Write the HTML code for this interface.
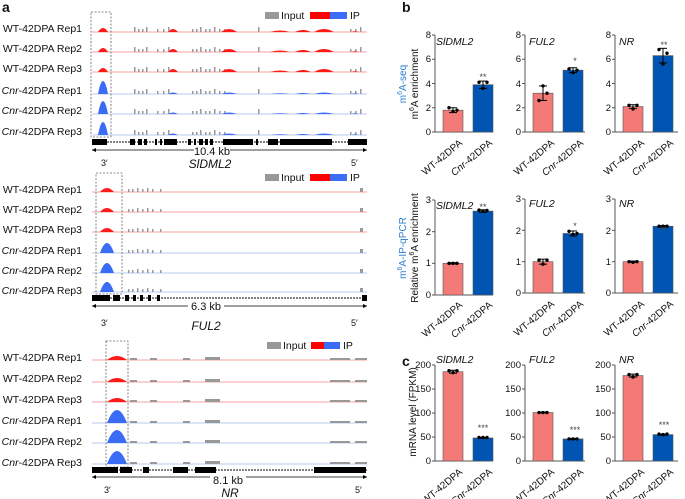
<!DOCTYPE html>
<html><head><meta charset="utf-8"><style>
body{margin:0;background:#fff}
svg{display:block;font-family:"Liberation Sans",sans-serif}
</style></head><body>
<svg id="s" width="685" height="499" viewBox="0 0 685 499" xmlns="http://www.w3.org/2000/svg">
<g id="g"></g>
<g font-size="10.5" fill="#111" text-anchor="end">
<text x="82" y="32">WT-42DPA Rep1</text><text x="82" y="52">WT-42DPA Rep2</text><text x="82" y="72">WT-42DPA Rep3</text>
<text x="82" y="94"><tspan font-style="italic">Cnr</tspan>-42DPA Rep1</text><text x="82" y="114"><tspan font-style="italic">Cnr</tspan>-42DPA Rep2</text><text x="82" y="135"><tspan font-style="italic">Cnr</tspan>-42DPA Rep3</text>
<text x="82" y="193">WT-42DPA Rep1</text><text x="82" y="213">WT-42DPA Rep2</text><text x="82" y="233">WT-42DPA Rep3</text>
<text x="82" y="254"><tspan font-style="italic">Cnr</tspan>-42DPA Rep1</text><text x="82" y="274"><tspan font-style="italic">Cnr</tspan>-42DPA Rep2</text><text x="82" y="294"><tspan font-style="italic">Cnr</tspan>-42DPA Rep3</text>
<text x="82" y="361">WT-42DPA Rep1</text><text x="82" y="382">WT-42DPA Rep2</text><text x="82" y="403">WT-42DPA Rep3</text>
<text x="82" y="424"><tspan font-style="italic">Cnr</tspan>-42DPA Rep1</text><text x="82" y="445"><tspan font-style="italic">Cnr</tspan>-42DPA Rep2</text><text x="82" y="466"><tspan font-style="italic">Cnr</tspan>-42DPA Rep3</text>
</g>
<g font-size="11" fill="#111">
<text x="2" y="12" font-weight="bold" font-size="14">a</text>
<text x="402" y="12" font-weight="bold" font-size="14">b</text>
<text x="402" y="366" font-weight="bold" font-size="14">c</text>
<text x="212" y="155" text-anchor="middle">10.4 kb</text>
<text x="210" y="168" text-anchor="middle" font-style="italic" font-size="12">SlDML2</text>
<text x="206" y="310" text-anchor="middle">6.3 kb</text>
<text x="206" y="330" text-anchor="middle" font-style="italic" font-size="12">FUL2</text>
<text x="228" y="484" text-anchor="middle">8.1 kb</text>
<text x="230" y="497" text-anchor="middle" font-style="italic" font-size="12">NR</text>
<g font-size="9"><text x="101" y="166">3′</text><text x="351" y="166">5′</text>
<text x="101" y="326">3′</text><text x="351" y="326">5′</text>
<text x="104" y="493">3′</text><text x="355" y="493">5′</text></g>
<g font-size="10.5"><text x="281" y="19">Input</text><text x="350" y="19">IP</text>
<text x="281" y="181">Input</text><text x="350" y="181">IP</text>
<text x="283" y="349">Input</text><text x="343" y="349">IP</text></g>
</g>
<g font-size="9.5" fill="#111">
<g text-anchor="end">
<text x="431" y="38">8</text><text x="431" y="62">6</text><text x="431" y="87">4</text><text x="431" y="111">2</text><text x="431" y="135">0</text>
<text x="521" y="38">8</text><text x="521" y="62">6</text><text x="521" y="87">4</text><text x="521" y="111">2</text><text x="521" y="135">0</text>
<text x="611" y="38">8</text><text x="611" y="62">6</text><text x="611" y="87">4</text><text x="611" y="111">2</text><text x="611" y="135">0</text>
<text x="431" y="203">3</text><text x="431" y="235">2</text><text x="431" y="266">1</text><text x="431" y="298">0</text>
<text x="521" y="202">3</text><text x="521" y="234">2</text><text x="521" y="265">1</text><text x="521" y="296">0</text>
<text x="611" y="202">3</text><text x="611" y="234">2</text><text x="611" y="265">1</text><text x="611" y="296">0</text>
<text x="431" y="368">200</text><text x="431" y="392">150</text><text x="431" y="416">100</text><text x="431" y="440">50</text><text x="431" y="464">0</text>
<text x="521" y="368">200</text><text x="521" y="392">150</text><text x="521" y="416">100</text><text x="521" y="440">50</text><text x="521" y="464">0</text>
<text x="611" y="368">200</text><text x="611" y="392">150</text><text x="611" y="416">100</text><text x="611" y="440">50</text><text x="611" y="464">0</text>
</g>
<g font-style="italic" font-size="10.5">
<text x="436" y="45">SlDML2</text><text x="529" y="45">FUL2</text><text x="619" y="45">NR</text>
<text x="436" y="209">SlDML2</text><text x="529" y="207">FUL2</text><text x="619" y="207">NR</text>
<text x="436" y="363">SlDML2</text><text x="529" y="363">FUL2</text><text x="619" y="363">NR</text>
</g>
<g fill="#444" font-size="9" text-anchor="middle">
<text x="483" y="80">**</text><text x="575" y="64">*</text><text x="664" y="48">**</text>
<text x="483" y="210">**</text><text x="575" y="229">*</text><text x="664" y="233">**</text>
<text x="483" y="431">***</text><text x="575" y="433">***</text><text x="664" y="428">***</text>
</g>
<g text-anchor="end" font-size="10">
<g transform="translate(463,144) rotate(-40)"><text>WT-42DPA</text></g>
<g transform="translate(493,144) rotate(-40)"><text><tspan font-style="italic">Cnr</tspan>-42DPA</text></g>
<g transform="translate(555,144) rotate(-40)"><text>WT-42DPA</text></g>
<g transform="translate(584,144) rotate(-40)"><text><tspan font-style="italic">Cnr</tspan>-42DPA</text></g>
<g transform="translate(645,144) rotate(-40)"><text>WT-42DPA</text></g>
<g transform="translate(674,144) rotate(-40)"><text><tspan font-style="italic">Cnr</tspan>-42DPA</text></g>
<g transform="translate(463,306) rotate(-40)"><text>WT-42DPA</text></g>
<g transform="translate(493,306) rotate(-40)"><text><tspan font-style="italic">Cnr</tspan>-42DPA</text></g>
<g transform="translate(555,305) rotate(-40)"><text>WT-42DPA</text></g>
<g transform="translate(584,305) rotate(-40)"><text><tspan font-style="italic">Cnr</tspan>-42DPA</text></g>
<g transform="translate(645,305) rotate(-40)"><text>WT-42DPA</text></g>
<g transform="translate(674,305) rotate(-40)"><text><tspan font-style="italic">Cnr</tspan>-42DPA</text></g>
<g transform="translate(463,473) rotate(-40)"><text>WT-42DPA</text></g>
<g transform="translate(493,473) rotate(-40)"><text><tspan font-style="italic">Cnr</tspan>-42DPA</text></g>
<g transform="translate(555,473) rotate(-40)"><text>WT-42DPA</text></g>
<g transform="translate(584,473) rotate(-40)"><text><tspan font-style="italic">Cnr</tspan>-42DPA</text></g>
<g transform="translate(645,473) rotate(-40)"><text>WT-42DPA</text></g>
<g transform="translate(674,473) rotate(-40)"><text><tspan font-style="italic">Cnr</tspan>-42DPA</text></g>
</g>
<g text-anchor="middle" font-size="10">
<text transform="translate(406,84) rotate(-90)" fill="#2a7fd4">m<tspan font-size="7" dy="-4">6</tspan><tspan dy="4">A-seq</tspan></text>
<text transform="translate(418,84) rotate(-90)">m<tspan font-size="7" dy="-4">6</tspan><tspan dy="4">A enrichment</tspan></text>
<text transform="translate(406,248) rotate(-90)" fill="#2a7fd4">m<tspan font-size="7" dy="-4">6</tspan><tspan dy="4">A-IP-qPCR</tspan></text>
<text transform="translate(418,248) rotate(-90)">Relative m<tspan font-size="7" dy="-4">6</tspan><tspan dy="4">A enrichment</tspan></text>
<text transform="translate(416,412) rotate(-90)">mRNA  level (FPKM)</text>
</g>
</g>
</svg>
<script>
var G=document.getElementById('g'),NS='http://www.w3.org/2000/svg';
function el(t,a){var e=document.createElementNS(NS,t);for(var k in a)e.setAttribute(k,a[k]);G.appendChild(e);return e;}
function bump(x,w,h,y,c){el('path',{d:'M'+(x-w)+' '+y+' Q'+x+' '+(y-2*h)+' '+(x+w)+' '+y+'Z',fill:c});}
function group(o){
 o.rows.forEach(function(y,i){
  var wt=i<3,col=wt?'#ff1a1a':'#3a6cf5',lc=wt?'#f7a0a0':'#b8c8f0';
  el('line',{x1:92,x2:367,y1:y,y2:y,stroke:lc,'stroke-width':1});
  o.gray.forEach(function(g){el('rect',{x:g[0],y:y-g[1],width:g[2]||1.5,height:g[1],fill:'#999'});});
  o.soft.forEach(function(s){bump(s[0],s[1],wt?s[2]:s[3],y,col);});
  var ph=wt?o.pk[0]:o.pk[1];bump(o.px,o.pw,ph,y,col);
 });
 el('rect',{x:o.box[0],y:o.box[1],width:o.box[2],height:o.box[3],fill:'none',stroke:'#666','stroke-dasharray':'2,1.5','stroke-width':0.8});
 el('line',{x1:92,x2:367,y1:o.gy,y2:o.gy,stroke:'#000','stroke-width':1,'stroke-dasharray':'2,1'});
 o.ex.forEach(function(e){el('rect',{x:e[0],y:o.gy-3,width:e[1]-e[0],height:6,fill:'#000'});});
 el('line',{x1:92,x2:o.kx-18,y1:o.ky,y2:o.ky,stroke:'#000','stroke-width':0.7});
 el('line',{x1:o.kx+18,x2:367,y1:o.ky,y2:o.ky,stroke:'#000','stroke-width':0.7});
 el('path',{d:'M92 '+o.ky+'l4 -2v4z M367 '+o.ky+'l-4 -2v4z',fill:'#000'});
 var ly=o.ly,L=o.leg;
 el('rect',{x:o.lx,y:ly,width:14,height:7,fill:'#999'});
 el('rect',{x:L[0],y:ly,width:L[1]-L[0],height:7,fill:'#f00'});
 el('rect',{x:L[1],y:ly,width:L[2]-L[1],height:7,fill:'#3a6cf5'});
}
var gr1=[];[134,138,142,146,157,163,168,192,196,200,205,209,214,219,224,258,350,355,360].forEach(function(x,i){gr1.push([x,i%3==0?5:3]);});
group({rows:[32,52,72,94,114,135],gray:gr1,soft:[[173,5,3,1.5],[229,8,3,1.5],[280,10,1.5,0.8],[303,8,2,1],[324,10,3,1.5],[355,4,0.8,0.8]],px:103,pw:5,pk:[4,13],box:[91,12,20,125],gy:142,ex:[[92,107],[130,135],[138,142],[144,147],[155,157],[160,162],[164,177],[188,191],[194,196],[199,203],[205,208],[210,213],[223,253],[256,258],[268,278],[280,332],[348,367]],kx:212,ky:150,lx:265,ly:12,leg:[310,330,347]});
var gr2=[[128,3],[132,3],[137,4],[142,3],[147,4],[152,3],[160,3],[360,4,3]];
group({rows:[192,212,232,253,273,292],gray:gr2,soft:[],px:107,pw:7,pk:[4,10],box:[96,173,26,121],gy:298,ex:[[92,110],[113,120],[125,129],[133,136],[140,143],[148,151],[157,160],[362,367]],kx:206,ky:306,lx:265,ly:174,leg:[310,330,347]});
var gr3=[[130,2,7],[150,2,7],[183,2,7],[205,3,15],[330,2,20],[355,2,12]];
group({rows:[360,382,402,423,443,464],gray:gr3,soft:[],px:117,pw:10,pk:[4,13],box:[106,341,22,126],gy:470,ex:[[92,118],[120,132],[143,149],[173,188],[195,216],[314,366]],kx:228,ky:477,lx:267,ly:342,leg:[311,324,340]});
function chart(ax,y0,yt,max,xr,vals,errs,pts){
 el('line',{x1:ax,x2:ax,y1:yt,y2:y0,stroke:'#555','stroke-width':1});
 el('line',{x1:ax,x2:xr,y1:y0,y2:y0,stroke:'#555','stroke-width':1});
 var n=Math.round(max/(max==3?1:max==8?2:50));
 for(var i=0;i<=n;i++){var y=y0-(y0-yt)*i/n;el('line',{x1:ax-3,x2:ax,y1:y,y2:y,stroke:'#555'});}
 var bx=[ax+8,ax+38],cols=['#f47a78','#0055b3'];
 vals.forEach(function(v,j){var h=(y0-yt)*v/max;el('rect',{x:bx[j],y:y0-h,width:20,height:h,fill:cols[j],stroke:'#555','stroke-width':0.6});
  var cx=bx[j]+10,e=(y0-yt)*errs[j]/max;
  el('line',{x1:cx,x2:cx,y1:y0-h-e,y2:y0-h+e,stroke:'#000'});el('line',{x1:cx-4,x2:cx+4,y1:y0-h-e,y2:y0-h-e,stroke:'#000'});el('line',{x1:cx-4,x2:cx+4,y1:y0-h+e,y2:y0-h+e,stroke:'#000'});
  pts[j].forEach(function(p,k){el('circle',{cx:cx-4+4*k,cy:y0-(y0-yt)*p/max,r:1.7,fill:'#000'});});
 });
}
chart(435,132,35,8,493,[1.8,3.9],[0.2,0.3],[[2,1.7,1.8],[4.1,3.6,4.1]]);
chart(525,132,35,8,585,[3.2,5.1],[0.6,0.2],[[2.6,3.8,3.2],[5.2,4.9,5.1]]);
chart(615,132,35,8,678,[2.1,6.3],[0.15,0.6],[[2.2,1.9,2.2],[6.8,5.6,6.5]]);
chart(435,295,200,3,493,[1,2.65],[0.02,0.04],[[1,1,1],[2.68,2.65,2.67]]);
chart(525,293,199,3,585,[1,1.9],[0.08,0.08],[[1.05,0.92,1.05],[1.97,1.87,1.9]]);
chart(615,293,199,3,678,[1,2.13],[0.02,0.02],[[1,0.98,1],[2.13,2.13,2.13]]);
chart(435,461,365,200,493,[186,48],[3,1],[[188,184,188],[49,49,49]]);
chart(525,461,365,200,585,[101,46],[1,1],[[101,101,101],[46,46,46]]);
chart(615,461,365,200,678,[178,55],[3,1],[[180,175,180],[56,55,56]]);
</script>
</body></html>
